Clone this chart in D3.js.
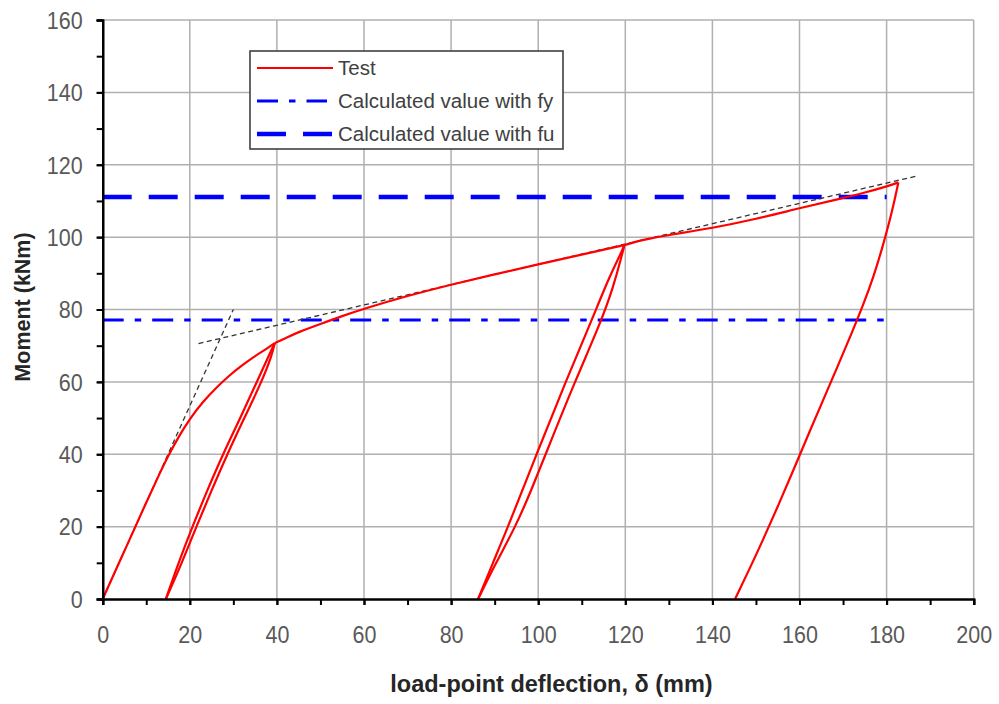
<!DOCTYPE html>
<html>
<head>
<meta charset="utf-8">
<script src="https://cdn.jsdelivr.net/npm/d3@7"></script>
<style>
  body { margin: 0; background: #fff; }
  svg { display: block; font-family: "Liberation Sans", Arial, sans-serif; }
</style>
</head>
<body>
<div id="chart"></div>
<script>
// test curve as [deflection mm, moment kNm]
let load1 = [[0,0],[5,13.3],[10,26.7],[13,34.5],[15,39.5],[17.5,45],[20,49.8],[23,54.5],[26,58.3],[29,61.7],[32,64.6],[35,67.2],[37.5,69],[39.5,70.7]]
let unload1 = [[39.5,70.7],[38.6,68.5],[35.4,60],[31.6,50],[27.6,40],[24,30],[20.6,20],[17.4,10],[14.5,0]]
let reload1 = [[14.5,0],[18.2,10],[21.5,20],[25,30],[28.6,40],[32.5,50],[36.5,60],[38.9,67.5],[39.5,70.7]]
let load2 = [[39.5,70.7],[42,72.1],[45,73.8],[50,76],[55,78.2],[60,80.2],[70,83.8],[80,86.9],[90,89.7],[100,92.5],[110,95.2],[119.8,97.8]]
let unload2 = [[119.8,97.8],[118.8,95],[116.5,89.5],[112.3,77.1],[106.3,60],[99.7,40.3],[93.1,20],[89.6,10],[86.2,0]]
let reload2 = [[86.2,0],[90.3,10],[94.8,20],[98.4,30],[101.8,40.3],[108.4,60],[114.6,77.1],[117.3,86.5],[119,94],[119.8,97.8]]
let load3 = [[119.8,97.8],[122,98.6],[125,99.5],[130,100.6],[140,102.5],[150,105],[160,108],[170,110.8],[175,112.3],[180,114],[182.7,115.1]]
let unload3 = [[182.7,115.1],[181.8,110],[180.6,104],[179,97],[177,89],[174.7,81.5],[172,73.5],[169,65],[165.8,56],[162.4,46.5],[158.9,36.5],[155.2,26],[151.3,15.5],[148.4,8],[145.2,0]]
let testSegments = [load1, unload1, reload1, load2, unload2, reload2, load3, unload3]

// calculated moments and their extent
let calcFy = 77.1
let calcFu = 111.1
let calcRange = [0, 180]

// stiffness construction lines (black dashed)
let tangent1 = [[0,0],[30,80]]
let tangent2 = [[22,70.6],[187,116.9]]

let xTicks = [0,20,40,60,80,100,120,140,160,180,200]
let yTicks = [0,20,40,60,80,100,120,140,160]
let xMinor = d3.range(0, 201, 10)
let yMinor = d3.range(0, 161, 10)

let legendItems = [
  {name: "Test", kind: "test"},
  {name: "Calculated value with fy", kind: "fy"},
  {name: "Calculated value with fu", kind: "fu"}
]

const W = 999, H = 704
const pLeft = 102.7, pRight = 973.7, pTop = 20, pBottom = 599

const svg = d3.select("#chart").append("svg").attr("width", W).attr("height", H)

const x = d3.scaleLinear().domain([0, 200]).range([pLeft, pRight])
const y = d3.scaleLinear().domain([0, 160]).range([pBottom, pTop])

// grid
svg.append("g").selectAll("line").data(xTicks.slice(1)).enter().append("line")
  .attr("x1", d => x(d)).attr("x2", d => x(d)).attr("y1", pTop).attr("y2", pBottom)
  .attr("stroke", "#b0b0b0").attr("stroke-width", 1.5)
svg.append("g").selectAll("line").data(yTicks.slice(1)).enter().append("line")
  .attr("x1", pLeft).attr("x2", pRight).attr("y1", d => y(d)).attr("y2", d => y(d))
  .attr("stroke", "#b0b0b0").attr("stroke-width", 1.5)

const styles = {
  test: {stroke: "#ff0000", width: 2.2, dash: null},
  fy: {stroke: "#0000ff", width: 2.8, dash: "21,11,6.5,11"},
  fu: {stroke: "#0000ff", width: 4.5, dash: "29,17"}
}

// calculated lines
let calcLines = [{kind: "fy", value: calcFy}, {kind: "fu", value: calcFu}]
svg.append("g").selectAll("line").data(calcLines).enter().append("line")
  .attr("x1", x(calcRange[0])).attr("x2", x(calcRange[1]))
  .attr("y1", d => y(d.value)).attr("y2", d => y(d.value))
  .attr("stroke", d => styles[d.kind].stroke)
  .attr("stroke-width", d => styles[d.kind].width)
  .attr("stroke-dasharray", d => styles[d.kind].dash)

// dashed construction lines
const line = d3.line().x(d => x(d[0])).y(d => y(d[1]))
svg.append("g").selectAll("path").data([tangent1, tangent2]).enter().append("path")
  .attr("d", line).attr("fill", "none")
  .attr("stroke", "#333").attr("stroke-width", 1.3).attr("stroke-dasharray", "5,3.5")

// test curve
const curve = d3.line().x(d => x(d[0])).y(d => y(d[1])).curve(d3.curveBasis)
svg.append("g").selectAll("path").data(testSegments).enter().append("path")
  .attr("d", curve).attr("fill", "none")
  .attr("stroke", styles.test.stroke).attr("stroke-width", styles.test.width)
  .attr("stroke-linejoin", "round")

// axes
const stretch = 1.1
const yMinorAxis = svg.append("g").attr("transform", `translate(${pLeft},0)`)
  .call(d3.axisLeft(y).tickValues(yMinor).tickSize(6).tickFormat(""))
const yAxis = svg.append("g").attr("transform", `translate(${pLeft},0)`)
  .call(d3.axisLeft(y).tickValues(yTicks).tickSize(6).tickPadding(14).tickFormat(d3.format("d")))
const xMinorAxis = svg.append("g").attr("transform", `translate(0,${pBottom})`)
  .call(d3.axisBottom(x).tickValues(xMinor).tickSize(6).tickFormat(""))
const xAxis = svg.append("g").attr("transform", `translate(0,${pBottom})`)
  .call(d3.axisBottom(x).tickValues(xTicks).tickSize(6).tickFormat(d3.format("d")))

;[yMinorAxis, yAxis, xMinorAxis, xAxis].forEach(g => {
  g.select(".domain").attr("stroke", "#000").attr("stroke-width", 2.2)
  g.selectAll(".tick line").attr("stroke", "#000").attr("stroke-width", 2)
})
yAxis.selectAll(".tick text")
  .attr("font-size", 21.5).attr("fill", "#595959").attr("font-family", "Liberation Sans, Arial")
  .attr("dy", "0.35em").attr("transform", `scale(1,${stretch})`)
xAxis.selectAll(".tick text")
  .attr("font-size", 21.5).attr("fill", "#595959").attr("font-family", "Liberation Sans, Arial")
  .attr("dy", 0).attr("y", 44 / stretch).attr("transform", `scale(1,${stretch})`)

// axis titles
svg.append("text")
  .attr("x", 551.5).attr("y", 692)
  .attr("text-anchor", "middle").attr("font-weight", "bold").attr("font-size", 23.5)
  .attr("fill", "#262626")
  .text("load-point deflection, δ (mm)")
svg.append("text")
  .attr("transform", "translate(30,307) rotate(-90)")
  .attr("text-anchor", "middle").attr("font-weight", "bold").attr("font-size", 21.5)
  .attr("fill", "#262626")
  .text("Moment (kNm)")

// legend
const legend = svg.append("g")
legend.append("rect").attr("x", 250).attr("y", 51).attr("width", 313).attr("height", 98)
  .attr("fill", "#fff").attr("stroke", "#404040").attr("stroke-width", 1.6)
const rows = legend.selectAll("g.row").data(legendItems).enter().append("g")
  .attr("class", "row").attr("transform", (d, i) => `translate(0,${68 + i * 33})`)
rows.append("line").attr("x1", 257).attr("x2", d => d.kind === "fy" ? 327 : 333)
  .attr("y1", 0).attr("y2", 0)
  .attr("stroke", d => styles[d.kind].stroke)
  .attr("stroke-width", d => styles[d.kind].width)
  .attr("stroke-dasharray", d => styles[d.kind].dash)
rows.append("text").attr("x", 338).attr("y", 0).attr("dy", "0.36em")
  .attr("font-size", 20.5).attr("fill", "#404040")
  .text(d => d.name)
</script>
</body>
</html>
